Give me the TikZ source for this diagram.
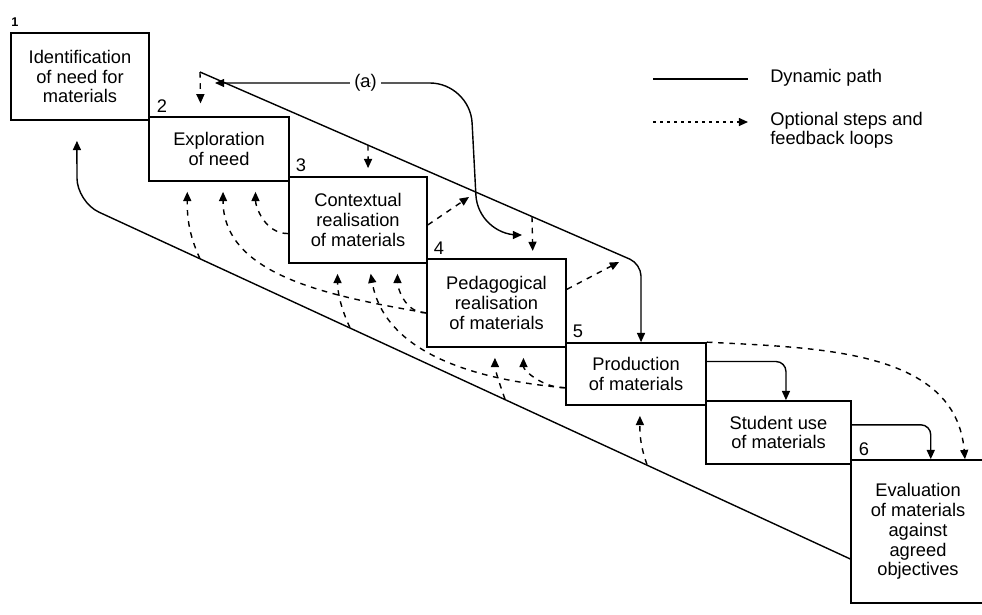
\documentclass[tikz,border=0pt]{standalone}
\usepackage{fontspec}
\setmainfont{Liberation Sans}
\usetikzlibrary{arrows.meta}

\begin{document}
\begin{tikzpicture}[
  x=0.025cm,y=-0.025cm,
  stagebox/.style={draw,line width=1.2pt,inner sep=0pt,align=center,font=\fontsize{13}{14.1}\selectfont},
  stepno/.style={inner sep=0pt,font=\fontsize{13}{14}\selectfont},
  legtext/.style={inner sep=0pt,anchor=west,align=left,font=\fontsize{13}{13.2}\selectfont},
  dyn/.style={-{Triangle[length=2.3mm,width=2mm]},line width=1pt},
  opt/.style={-{Triangle[length=2.3mm,width=2mm]},line width=1pt,dash pattern=on 4pt off 4pt}
]
\useasboundingbox (0,0) rectangle (982,614);
\node[stagebox,minimum width=3.45cm,minimum height=2.175cm] (ident) at (80,76.5) {Identification\\of need for\\materials};
\node[stagebox,minimum width=3.5cm,minimum height=1.6cm] (explore) at (219,149) {Exploration\\of need};
\node[stagebox,minimum width=3.45cm,minimum height=2.15cm] (context) at (358,220) {Contextual\\realisation\\of materials};
\node[stagebox,minimum width=3.475cm,minimum height=2.2cm] (pedag) at (496.5,303) {Pedagogical\\realisation\\of materials};
\node[stagebox,minimum width=3.5cm,minimum height=1.55cm] (produce) at (636,374) {Production\\of materials};
\node[stagebox,minimum width=3.625cm,minimum height=1.575cm] (student) at (778.5,432.5) {Student use\\of materials};
\node[stagebox,minimum width=3.35cm,minimum height=3.575cm] (evaluate) at (918,531.5) {Evaluation\\of materials\\against\\agreed\\objectives};

\node[stepno,font=\fontsize{9}{9}\selectfont\bfseries] (no1) at (15,22) {1};
\node[stepno] (no2) at (162,106) {2};
\node[stepno] (no3) at (301,165) {3};
\node[stepno] (no4) at (439,248) {4};
\node[stepno] (no5) at (578,331) {5};
\node[stepno] (no6) at (864,449) {6};

\coordinate (top1) at (200,72);
\coordinate (top2) at (368,145.1);
\coordinate (top3) at (532,216.5);
\coordinate (topbend) at (641,264);
\coordinate (lowbend) at (77,202);
\coordinate (low1) at (200,258.7);
\coordinate (low2) at (350,327.7);
\coordinate (low3) at (505,399.1);
\coordinate (low4) at (647,464.5);
\coordinate (loopA) at (215,83);
\coordinate (loopB) at (470,83);
\coordinate (loopC) at (478,235);
\coordinate (loopD) at (522,235);
\coordinate (fwd1) at (469,197);
\coordinate (fwd2) at (619,262);

\draw[dyn,rounded corners=0.3cm] (top1) -- (topbend) -- (produce.81);
\draw[dyn,rounded corners=0.6cm,shorten >=0.5cm] (evaluate.202) -- (lowbend) -- (ident.266);
\draw[dyn,rounded corners=0.25cm] (produce.10) -| (student.77);
\draw[dyn,rounded corners=0.25cm] (student.6) -| (evaluate.80);
\draw[{Triangle[length=2.3mm,width=2mm]}-{Triangle[length=2.3mm,width=2mm]},line width=1pt,rounded corners=1cm]
  (loopA) -- node[pos=0.59,fill=white,inner sep=3pt,font=\fontsize{13}{14}\selectfont] (alabel) {(a)} (loopB) -- (loopC) -- (loopD);

\draw[opt,shorten >=0.32cm] (top1) -- (explore.119);
\draw[opt,shorten >=0.2cm] (top2) -- (context.77);
\draw[opt,shorten >=0.18cm] (top3) -- (pedag.51);
\draw[opt] (context.356) -- (fwd1);
\draw[opt] (pedag.11) -- (fwd2);

\draw[opt,shorten >=0.25cm] (context.191) to[out=180,in=-90] (explore.318);
\draw[opt,shorten >=0.25cm] (pedag.188) to[out=170,in=-90] (explore.277);
\draw[opt,shorten >=0.25cm] (pedag.188) to[out=180,in=-90] (context.312);
\draw[opt,shorten >=0.25cm] (produce.191) to[out=175,in=-80] (context.284);
\draw[opt,shorten >=0.25cm] (produce.191) to[out=180,in=-90] (pedag.301);
\draw[opt,shorten >=0.25cm] (low1) to[out=115,in=-90] (explore.226);
\draw[opt,shorten >=0.25cm] (low2) to[out=115,in=-90] (context.245);
\draw[opt,shorten >=0.25cm] (low3) to[out=110,in=-90] (pedag.268);
\draw[opt,shorten >=0.25cm] (low4) to[out=110,in=-90] (produce.277);
\draw[opt] (produce.north east) to[out=-3,in=95] (evaluate.57);

\coordinate (legA) at (653,79);
\coordinate (legB) at (748,79);
\coordinate (legC) at (653,122);
\coordinate (legD) at (748,122);
\draw[line width=1pt] (legA) -- (legB);
\draw[opt,dash pattern=on 2pt off 3pt] (legC) -- (legD);
\node[legtext] (legdyn) at (770,78) {Dynamic path};
\node[legtext] (legopt) at (770,130) {Optional steps and\\feedback loops};
\end{tikzpicture}
\end{document}
